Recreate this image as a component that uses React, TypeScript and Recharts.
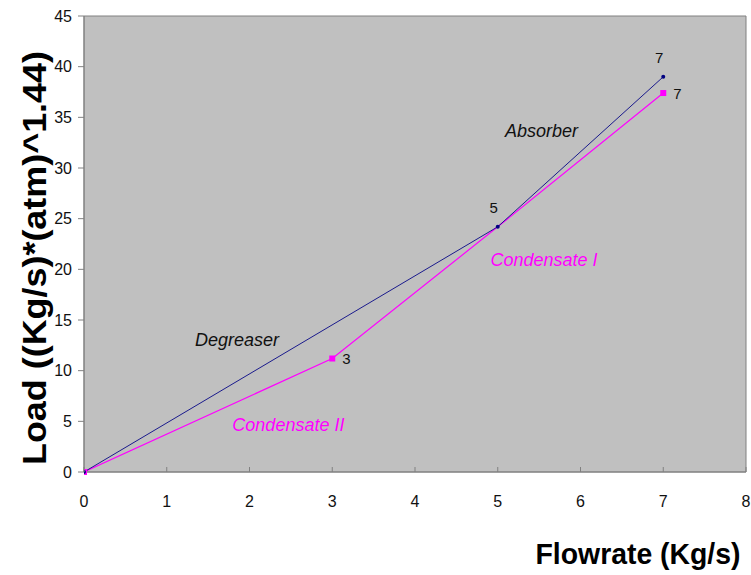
import React from "react";
import {
  LineChart, Line, XAxis, YAxis, ReferenceArea, ReferenceDot, LabelList,
} from "recharts";

// flowrate (Kg/s) vs load for the two process trains
const absorberX = [0, 5, 7];
const absorberY = [0, 24.2, 39.0];
const absorberTags = ["", "5", "7"];

const condensateX = [0, 3, 5, 7];
const condensateY = [0, 11.2, 24.2, 37.4];
const condensateTags = ["", "3", "", "7"];
// the shared point at 5 only shows the absorber marker
const condensateMarked = [true, true, false, true];

const xTicks = [0, 1, 2, 3, 4, 5, 6, 7, 8];
const yTicks = [0, 5, 10, 15, 20, 25, 30, 35, 40, 45];

// text placed inside the plot, in data units
const notes = [
  { text: "Absorber", x: 5.53, y: 33.7, color: "#111" },
  { text: "Degreaser", x: 1.85, y: 13.1, color: "#111" },
  { text: "Condensate I", x: 5.56, y: 21.0, color: "#FF00FF" },
  { text: "Condensate II", x: 2.47, y: 4.7, color: "#FF00FF" },
];

const absorber = absorberX.map((x, i) => ({ x, y: absorberY[i], tag: absorberTags[i] }));
const condensate = condensateX.map((x, i) => ({
  x, y: condensateY[i], tag: condensateTags[i], marked: condensateMarked[i],
}));

const W = 751;
const H = 575;
const FONT = "'Liberation Sans', Arial, sans-serif";

function XTick({ x, y, payload }: any) {
  return (
    <g>
      <line x1={x} x2={x} y1={y - 5} y2={y} stroke="#808080" />
      <text x={x} y={y + 24} dy="0.71em" textAnchor="middle" fontSize={16} fill="#111" fontFamily={FONT}>
        {payload.value}
      </text>
    </g>
  );
}

function SquareDot({ cx, cy, payload }: any) {
  if (cx == null || cy == null || !payload?.marked) return null;
  return <rect x={cx - 3} y={cy - 3} width={6} height={6} fill="#FF00FF" />;
}

function RoundDot({ cx, cy }: any) {
  if (cx == null || cy == null) return null;
  return <circle cx={cx} cy={cy} r={2} fill="#000080" />;
}

function tagLabel(dx: number, dy: number, anchor: string) {
  return ({ x, y, value }: any) => {
    if (!value) return null;
    return (
      <text x={x + dx} y={y + dy} textAnchor={anchor} dominantBaseline="central"
        fontSize={15} fill="#111" fontFamily={FONT}>
        {value}
      </text>
    );
  };
}

export default function App() {
  return (
    <div style={{ position: "absolute", left: 0, top: 0, width: W, height: H, background: "#fff", fontFamily: FONT }}>
      <LineChart width={W} height={H} margin={{ top: 16, right: 5, left: 0, bottom: 0 }}>
        <XAxis
          type="number" dataKey="x" domain={[0, 8]} ticks={xTicks} allowDataOverflow
          height={103} tickSize={0} tickMargin={0} tickLine={false}
          axisLine={{ stroke: "#808080" }} tick={<XTick />}
        />
        <YAxis
          type="number" dataKey="y" domain={[0, 45]} ticks={yTicks} width={84}
          tickSize={6} tickMargin={6}
          axisLine={{ stroke: "#808080" }} tickLine={{ stroke: "#808080" }}
          tick={{ fontSize: 16, fill: "#111", fontFamily: FONT }}
        />
        <ReferenceArea x1={0} x2={8} y1={0} y2={45} fill="#C0C0C0" fillOpacity={1} stroke="#808080" strokeWidth={1} />
        {notes.map((n) => (
          <ReferenceDot key={n.text} x={n.x} y={n.y} r={0} fill="none" stroke="none"
            label={{ value: n.text, position: "center", fill: n.color, fontSize: 18, fontStyle: "italic", fontFamily: FONT }} />
        ))}
        <Line data={condensate} dataKey="y" stroke="#FF00FF" strokeWidth={1.2} dot={<SquareDot />}
          activeDot={false} isAnimationActive={false}>
          <LabelList dataKey="tag" content={tagLabel(10, 0, "start")} />
        </Line>
        <Line data={absorber} dataKey="y" stroke="#1A1A8C" strokeWidth={1} dot={<RoundDot />}
          activeDot={false} isAnimationActive={false}>
          <LabelList dataKey="tag" content={tagLabel(-4, -19, "middle")} />
        </Line>
      </LineChart>
      <svg width={W} height={H} style={{ position: "absolute", left: 0, top: 0, pointerEvents: "none" }}>
        <text x={46} y={258} transform="rotate(-90 46 258)" textAnchor="middle" fontSize={33} fontWeight="bold"
          fill="#000" fontFamily={FONT} textLength={414} lengthAdjust="spacingAndGlyphs">
          Load  ((Kg/s)*(atm)^1.44)
        </text>
        <text x={638} y={564} textAnchor="middle" fontSize={30} fontWeight="bold"
          fill="#000" fontFamily={FONT} textLength={205} lengthAdjust="spacingAndGlyphs">
          Flowrate (Kg/s)
        </text>
      </svg>
    </div>
  );
}
